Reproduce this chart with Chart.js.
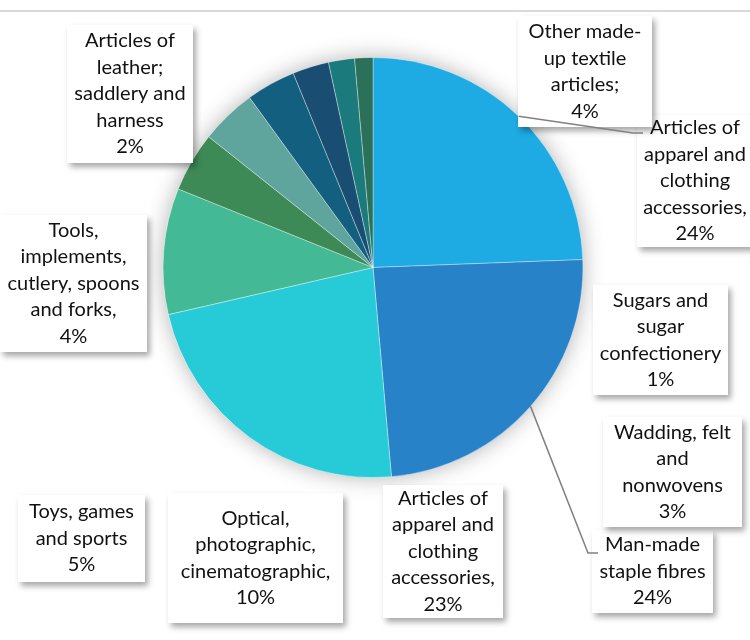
<!DOCTYPE html>
<html>
<head>
<meta charset="utf-8">
<script src="https://cdn.jsdelivr.net/npm/chart.js@4.4.0/dist/chart.umd.min.js"></script>
<style>
  html, body { margin: 0; padding: 0; background: #fff; }
  #wrap { width: 750px; height: 640px; }
</style>
</head>
<body>
<div id="wrap"><canvas id="pie" width="750" height="640"></canvas></div>
<script>
// Categories in slice order (clockwise from 12 o'clock)
const categories = [
    'Articles of apparel and clothing accessories (not knitted)',
    'Man-made staple fibres',
    'Articles of apparel and clothing accessories (knitted)',
    'Optical, photographic, cinematographic',
    'Toys, games and sports',
    'Tools, implements, cutlery, spoons and forks',
    'Other made-up textile articles',
    'Wadding, felt and nonwovens',
    'Articles of leather; saddlery and harness',
    'Sugars and sugar confectionery'
];
// shares
const shares = [24.4, 24.2, 22.8, 9.7, 4.6, 4.3, 3.8, 2.8, 2.0, 1.4];
const sliceColors = ['#1eaae2', '#2782c7', '#27cbd7', '#44b996', '#3d8a56', '#5fa59d', '#125f80', '#194d72', '#1b7a7c', '#2b7058'];

// Label text as wrapped in the callouts (percent is appended from shares)
const labelLines = [
    ['Articles of', 'apparel and', 'clothing', 'accessories,'],
    ['Man-made', 'staple fibres'],
    ['Articles of', 'apparel and', 'clothing', 'accessories,'],
    ['Optical,', 'photographic,', 'cinematographic,'],
    ['Toys, games', 'and sports'],
    ['Tools,', 'implements,', 'cutlery, spoons', 'and forks,'],
    ['Other made-', 'up textile', 'articles;'],
    ['Wadding, felt', 'and', 'nonwovens'],
    ['Articles of', 'leather;', 'saddlery and', 'harness'],
    ['Sugars and', 'sugar', 'confectionery']
];

// Callout box layout (pixels)
const labelBoxes = [
    { x: 637, y: 115, w: 116, h: 132 },
    { x: 592, y: 530, w: 121, h: 83 },
    { x: 383, y: 485, w: 120, h: 133 },
    { x: 168, y: 493, w: 175, h: 130 },
    { x: 18,  y: 495, w: 127, h: 87 },
    { x: 0,   y: 215, w: 147, h: 137 },
    { x: 518, y: 16,  w: 134, h: 111 },
    { x: 603, y: 417, w: 139, h: 110 },
    { x: 67,  y: 25,  w: 126, h: 138 },
    { x: 593, y: 285, w: 135, h: 110 }
];

// Leader lines: slice index and the height on the box where the line arrives
const leaders = [
    { index: 0, dy: 18 },
    { index: 1, dy: 23 }
];

const FONT = '20px Lato, "Open Sans", sans-serif';
const LINE_H = 26.5;

function pct(i) {
    const total = shares.reduce((a, b) => a + b, 0);
    return Math.round(shares[i] / total * 100) + '%';
}

const calloutPlugin = {
    id: 'callouts',
    beforeDraw(chart) {
        const ctx = chart.ctx;
        ctx.save();
        ctx.strokeStyle = '#d9d9d9';
        ctx.lineWidth = 2;
        ctx.beginPath();
        ctx.moveTo(0, 11);
        ctx.lineTo(chart.width, 11);
        ctx.stroke();
        ctx.restore();
    },
    beforeDatasetsDraw(chart) {
        // soft glow behind the pie
        const arc = chart.getDatasetMeta(0).data[0];
        const ctx = chart.ctx;
        ctx.save();
        ctx.shadowColor = 'rgba(0,0,0,0.3)';
        ctx.shadowBlur = 22;
        ctx.fillStyle = '#fff';
        ctx.beginPath();
        ctx.arc(arc.x, arc.y, arc.outerRadius, 0, Math.PI * 2);
        ctx.fill();
        ctx.restore();
    },
    afterDatasetsDraw(chart) {
        const ctx = chart.ctx;
        const meta = chart.getDatasetMeta(0);

        labelBoxes.forEach(b => {
            ctx.save();
            ctx.shadowColor = 'rgba(0,0,0,0.35)';
            ctx.shadowBlur = 6;
            ctx.shadowOffsetX = 3;
            ctx.shadowOffsetY = 4;
            ctx.fillStyle = '#fff';
            ctx.fillRect(b.x, b.y, b.w, b.h);
            ctx.restore();
        });

        ctx.save();
        ctx.strokeStyle = '#808080';
        ctx.lineWidth = 1.5;
        leaders.forEach(l => {
            const arc = meta.data[l.index];
            const mid = (arc.startAngle + arc.endAngle) / 2;
            const sx = arc.x + Math.cos(mid) * arc.outerRadius;
            const sy = arc.y + Math.sin(mid) * arc.outerRadius;
            const b = labelBoxes[l.index];
            const ey = b.y + l.dy;
            ctx.beginPath();
            ctx.moveTo(sx, sy);
            ctx.lineTo(b.x - 4, ey);
            ctx.lineTo(b.x + 6, ey);
            ctx.stroke();
        });
        ctx.restore();

        ctx.save();
        ctx.font = FONT;
        ctx.fillStyle = '#111';
        ctx.textAlign = 'center';
        ctx.textBaseline = 'middle';
        labelLines.forEach((lines, i) => {
            const b = labelBoxes[i];
            const all = lines.concat([pct(i)]);
            const cx = b.x + b.w / 2;
            const top = b.y + b.h / 2 - (all.length - 1) * LINE_H / 2;
            all.forEach((t, k) => ctx.fillText(t, cx, top + k * LINE_H));
        });
        ctx.restore();
    }
};

new Chart(document.getElementById('pie'), {
    type: 'pie',
    data: {
        labels: categories,
        datasets: [{
            data: shares,
            backgroundColor: sliceColors,
            borderColor: 'rgba(255,255,255,0.35)',
            borderWidth: 1
        }]
    },
    options: {
        responsive: false,
        animation: false,
        devicePixelRatio: 1,
        layout: { padding: { left: 162, right: 166, top: 57, bottom: 162 } },
        plugins: {
            legend: { display: false },
            tooltip: { enabled: false }
        }
    },
    plugins: [calloutPlugin]
});
</script>
</body>
</html>
